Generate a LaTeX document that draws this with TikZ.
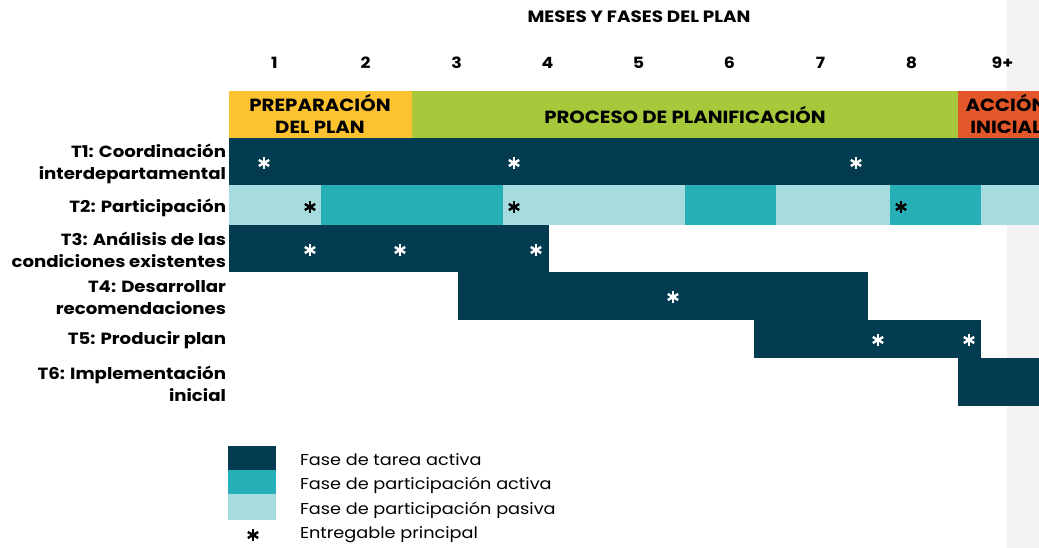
\documentclass[tikz,border=0pt]{standalone}
\usepackage{fontspec}
\setmainfont{Poppins}[FakeStretch=1.12]
\definecolor{darkblue}{HTML}{033C50}
\definecolor{tealact}{HTML}{26AFB7}
\definecolor{tealpas}{HTML}{A6DCDE}
\definecolor{prepyel}{HTML}{FDC230}
\definecolor{procgrn}{HTML}{A6C83A}
\definecolor{accorg}{HTML}{E4572A}
\definecolor{sidegray}{HTML}{F2F2F2}
\begin{document}
\begin{tikzpicture}[x=1pt,y=-1pt,inner sep=0pt,outer sep=0pt,
title/.style={font=\bfseries\fontsize{16.4}{18}\selectfont},
month/.style={font=\bfseries\fontsize{15.5}{18}\selectfont},
phase/.style={align=center,font=\bfseries\fontsize{17.6}{22}\selectfont},
task/.style={anchor=east,align=right,font=\bfseries\fontsize{16.2}{22}\selectfont},
legtext/.style={anchor=west,font=\fontsize{15.8}{18}\selectfont},
astk/.pic={\foreach \a in {90,30,-30} \draw[line width=2.4pt,pic actions] (\a:6) -- (\a+180:6);}]
\useasboundingbox (0,0) rectangle (1039,548);
\clip (0,0) rectangle (1039,548);
\fill[sidegray] (1007,0) rectangle (1039,548);

% header
\draw (639,17) node[title] (hdr) {MESES Y FASES DEL PLAN};
\foreach \m/\lab in {1/1,2/2,3/3,4/4,5/5,6/6,7/7,8/8,9/9+}
  \draw (183.5+91*\m,63) node[month] (m\m) {\lab};

% phases
\fill[prepyel] (229,91) rectangle (412,138);
\fill[procgrn] (412,91) rectangle (958,138);
\fill[accorg] (958,91) rectangle (1039,138);
\draw (320,114) node[phase] (prep) {PREPARACIÓN\\DEL PLAN};
\draw (685,115) node[phase] (proc) {PROCESO DE PLANIFICACIÓN};
\draw (1006,114) node[phase] (acc) {ACCIÓN\\INICIAL};

% tasks
\fill[darkblue] (229,138) rectangle (1039,185);
\fill[tealpas] (229,185) rectangle (1039,225);
\fill[tealact] (321,185) rectangle (503,225);
\fill[tealact] (685,185) rectangle (776,225);
\fill[tealact] (890,185) rectangle (981,225);
\fill[darkblue] (229,225) rectangle (549,272);
\fill[darkblue] (458,272) rectangle (868,320);
\fill[darkblue] (754,320) rectangle (981,358);
\fill[darkblue] (958,358) rectangle (1039,406);

\draw (226,164) node[task] (t1) {T1: Coordinación\\interdepartamental};
\draw (226,208) node[task] (t2) {T2: Participación};
\draw (226,250) node[task] (t3) {T3: Análisis de las\\condiciones existentes};
\draw (226,298) node[task] (t4) {T4: Desarrollar\\recomendaciones};
\draw (226,340) node[task] (t5) {T5: Producir plan};
\draw (226,384) node[task] (t6) {T6: Implementación\\inicial};

% deliverables
\foreach \x/\y in {264/163,514/163,856/163,310/250,400/250,536/250,673/297,878/340,969/340}
  \path (\x,\y) pic[white] {astk};
\foreach \x/\y in {310/207,514/207,901/207}
  \path (\x,\y) pic[black] {astk};

% legend
\fill[darkblue] (228,446) rectangle (276,470);
\fill[tealact] (228,470) rectangle (276,494);
\fill[tealpas] (228,494) rectangle (276,520);
\path (253,535) pic[black] {astk};
\draw (300,460) node[legtext] (l1) {Fase de tarea activa};
\draw (300,485) node[legtext] (l2) {Fase de participación activa};
\draw (300,510) node[legtext] (l3) {Fase de participación pasiva};
\draw (300,535) node[legtext] (l4) {Entregable principal};
\end{tikzpicture}
\end{document}
